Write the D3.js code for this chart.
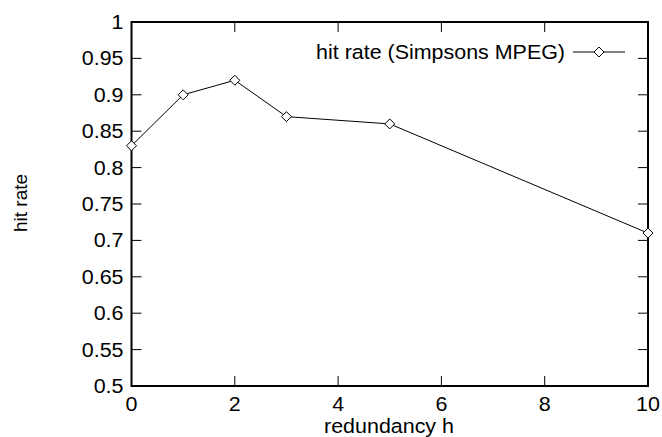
<!DOCTYPE html>
<html>
<head>
<meta charset="utf-8">
<script src="https://cdn.jsdelivr.net/npm/d3@7"></script>
<style>
  body { margin: 0; background: #fff; }
  text { font-family: "Liberation Sans", Arial, sans-serif; fill: #000; }
</style>
</head>
<body>
<div class="chart"></div>
<script>
const redundancy = [0, 1, 2, 3, 5, 10];
const hitRate = [0.83, 0.90, 0.92, 0.87, 0.86, 0.71];
const xTicks = [0, 2, 4, 6, 8, 10];
const yTicks = [0.5, 0.55, 0.6, 0.65, 0.7, 0.75, 0.8, 0.85, 0.9, 0.95, 1];
const seriesName = 'hit rate (Simpsons MPEG)';

const W = 662, H = 437;
const margin = { top: 22, right: 14, bottom: 51, left: 131.5 };
const width = W - margin.left - margin.right;
const height = H - margin.top - margin.bottom;

const svg = d3.select('.chart')
  .append('svg')
  .attr('width', W)
  .attr('height', H);

const g = svg.append('g')
  .attr('transform', `translate(${margin.left},${margin.top})`);

const x = d3.scaleLinear().domain([0, 10]).range([0, width]);
const y = d3.scaleLinear().domain([0.5, 1]).range([height, 0]);

const fontSize = 19.5;
const stretch = 1.1; // the picture's text is a bit wider than tall
const tickLen = 10;

// horizontal text, widened a little
const place = (px, py) => `translate(${px},${py}) scale(${stretch},1)`;

// tick marks on all four sides (gnuplot mirror style)
g.selectAll('.xt')
  .data(xTicks)
  .enter()
  .append('path')
  .attr('d', d => `M${x(d)},${height}v${-tickLen}M${x(d)},0v${tickLen}`)
  .attr('stroke', '#000')
  .attr('stroke-width', 1);

g.selectAll('.yt')
  .data(yTicks)
  .enter()
  .append('path')
  .attr('d', d => `M0,${y(d)}h${tickLen}M${width},${y(d)}h${-tickLen}`)
  .attr('stroke', '#000')
  .attr('stroke-width', 1);

g.selectAll('.xl')
  .data(xTicks)
  .enter()
  .append('text')
  .attr('transform', d => place(x(d), height + 25))
  .attr('text-anchor', 'middle')
  .style('font-size', fontSize + 'px')
  .text(d => d);

g.selectAll('.yl')
  .data(yTicks)
  .enter()
  .append('text')
  .attr('transform', d => place(-8, y(d) + 7))
  .attr('text-anchor', 'end')
  .style('font-size', fontSize + 'px')
  .text(d => d3.format('')(d));

g.append('rect')
  .attr('width', width)
  .attr('height', height)
  .attr('fill', 'none')
  .attr('stroke', '#000')
  .attr('stroke-width', 2);

// axis titles
svg.append('text')
  .attr('transform', place(389, 433))
  .attr('text-anchor', 'middle')
  .style('font-size', fontSize + 'px')
  .text('redundancy h');

svg.append('text')
  .attr('transform', `translate(27,203) rotate(-90)`)
  .attr('text-anchor', 'middle')
  .style('font-size', '19px')
  .text('hit rate');

const points = redundancy.map((r, i) => ({ r, v: hitRate[i] }));

const line = d3.line()
  .x(d => x(d.r))
  .y(d => y(d.v));

g.append('path')
  .datum(points)
  .attr('fill', 'none')
  .attr('stroke', '#000')
  .attr('stroke-width', 1)
  .attr('d', line);

const diamond = (cx, cy) => `M${cx},${cy - 5}L${cx + 5},${cy}L${cx},${cy + 5}L${cx - 5},${cy}Z`;

g.selectAll('.pt')
  .data(points)
  .enter()
  .append('path')
  .attr('d', d => diamond(x(d.r), y(d.v)))
  .attr('fill', '#fff')
  .attr('stroke', '#000')
  .attr('stroke-width', 1);

// legend
const legY = 30;
g.append('text')
  .attr('transform', place(565 - margin.left, legY + 7))
  .attr('text-anchor', 'end')
  .style('font-size', fontSize + 'px')
  .text(seriesName);

g.append('line')
  .attr('x1', 573 - margin.left)
  .attr('x2', 625 - margin.left)
  .attr('y1', legY)
  .attr('y2', legY)
  .attr('stroke', '#000');

g.append('path')
  .attr('d', diamond(599 - margin.left, legY))
  .attr('fill', '#fff')
  .attr('stroke', '#000');
</script>
</body>
</html>
